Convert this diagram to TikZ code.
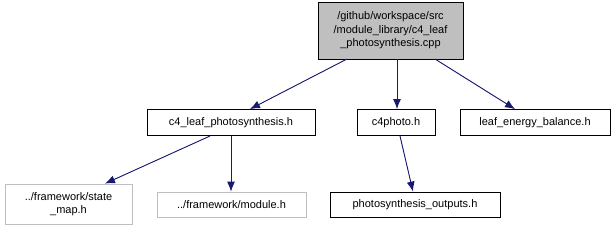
\documentclass[tikz,border=0pt]{standalone}
\usepackage{fontspec}
\setmainfont{Liberation Sans}
\usetikzlibrary{arrows.meta}
\definecolor{edgeblue}{HTML}{191970}
\definecolor{grayfill}{HTML}{BFBFBF}
\definecolor{grayline}{HTML}{BFBFBF}
\begin{document}
\begin{tikzpicture}[x=1pt,y=-1pt,
  box/.style={draw=black,line width=0.8pt,fill=white,inner sep=0pt,align=center,font=\fontsize{11}{13.5}\selectfont},
  graybox/.style={box,draw=grayline},
  rootbox/.style={box,fill=grayfill},
  dep/.style={draw=edgeblue,line width=0.9pt,-{Latex[length=10pt,width=8pt]},fill=edgeblue}]
\useasboundingbox (0,0) rectangle (616,231);
\node[rootbox,minimum width=145,minimum height=57] (root) at (390.5,30.5) {/github/workspace/src\\/module\_library/c4\_leaf\\\_photosynthesis.cpp};
\node[box,minimum width=168,minimum height=26] (leaf) at (231,122.5) {c4\_leaf\_photosynthesis.h};
\node[box,minimum width=78,minimum height=26] (photo) at (396,122.5) {c4photo.h};
\node[box,minimum width=150,minimum height=26] (energy) at (535,122.5) {leaf\_energy\_balance.h};
\node[graybox,minimum width=127,minimum height=40] (state) at (68.5,204) {../framework/state\\\_map.h};
\node[graybox,minimum width=149,minimum height=25] (module) at (231.5,204.5) {../framework/module.h};
\node[box,minimum width=170,minimum height=25] (outputs) at (415,204.5) {photosynthesis\_outputs.h};
\coordinate (r1) at (347,59);
\coordinate (r2) at (397,59);
\coordinate (r3) at (435,59);
\draw[dep] (r1) -- (leaf.north -| 250,0);
\draw[dep] (r2) -- (photo.north -| 397,0);
\draw[dep] (r3) -- (energy.north -| 515,0);
\coordinate (l1) at (210,136);
\coordinate (l2) at (231,136);
\coordinate (p1) at (400,136);
\draw[dep] (l1) -- (state.north -| 105,0);
\draw[dep] (l2) -- (module.north -| 231,0);
\draw[dep] (p1) -- (outputs.north -| 413,0);
\end{tikzpicture}
\end{document}
